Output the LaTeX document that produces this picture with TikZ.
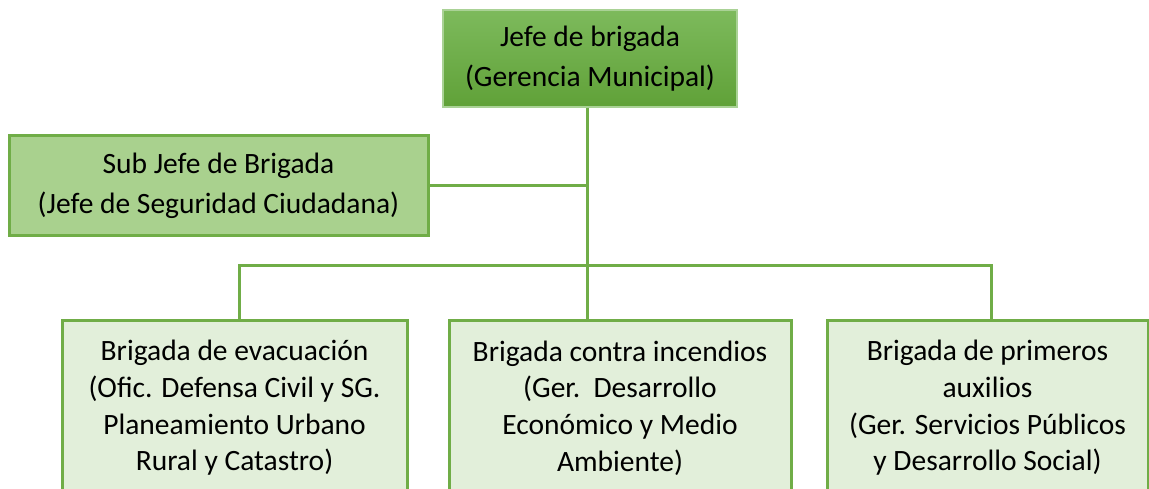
\documentclass[tikz,border=0pt]{standalone}
\usepackage{fontspec}
\setmainfont{Carlito}
\definecolor{lineG}{RGB}{112,173,71}
\definecolor{topA}{RGB}{125,186,92}
\definecolor{topB}{RGB}{96,161,56}
\definecolor{subF}{RGB}{169,209,142}
\definecolor{botF}{RGB}{226,239,218}
\definecolor{topBorder}{RGB}{170,210,150}
\tikzset{
  conn/.style={draw=lineG, line width=3pt},
  topbox/.style={rectangle, draw=topBorder, line width=1.5pt, top color=topA, bottom color=topB, align=center, inner sep=0pt, font=\fontsize{29.5}{40}\selectfont},
  subbox/.style={rectangle, draw=lineG, line width=3pt, fill=subF, align=center, inner sep=0pt, font=\fontsize{29.5}{40}\selectfont},
  botbox/.style={rectangle, draw=lineG, line width=3pt, fill=botF, align=center, inner sep=0pt, font=\fontsize{29.5}{36.7}\selectfont},
}
\begin{document}
\begin{tikzpicture}[x=1pt,y=1pt]
\useasboundingbox (0,0) rectangle (1149,488);
\fill[white] (0,0) rectangle (1149,488);
\node[topbox, minimum width=294pt, minimum height=97pt] (top) at (590,429.5) {Jefe de brigada\\(Gerencia Municipal)};
\node[subbox, minimum width=419pt, minimum height=100pt] (sub) at (218.5,302) {Sub Jefe de Brigada\\(Jefe de Seguridad Ciudadana)};
\node[botbox, minimum width=345pt, minimum height=176pt] (left) at (234.5,80) {Brigada de evacuación\\(Ofic. Defensa Civil y SG.\\Planeamiento Urbano\\Rural y Catastro)};
\node[botbox, minimum width=342pt, minimum height=176pt] (mid) at (620,80) {Brigada contra incendios\\(Ger.\ \ Desarrollo\\Económico y Medio\\Ambiente)};
\node[botbox, minimum width=321pt, minimum height=176pt] (right) at (987.5,80) {Brigada de primeros\\auxilios\\(Ger. Servicios Públicos\\y Desarrollo Social)};
\coordinate (bL) at (239,222);
\coordinate (bM) at (587,222);
\coordinate (bR) at (991,222);
\draw[conn] (top.south -| bM) -- (mid.north -| bM);
\draw[conn] (sub.east) -- (sub.east -| bM);
\draw[conn] (left.north -| bL) -- (bL) -- (bR) -- (right.north -| bR);
\end{tikzpicture}
\end{document}
